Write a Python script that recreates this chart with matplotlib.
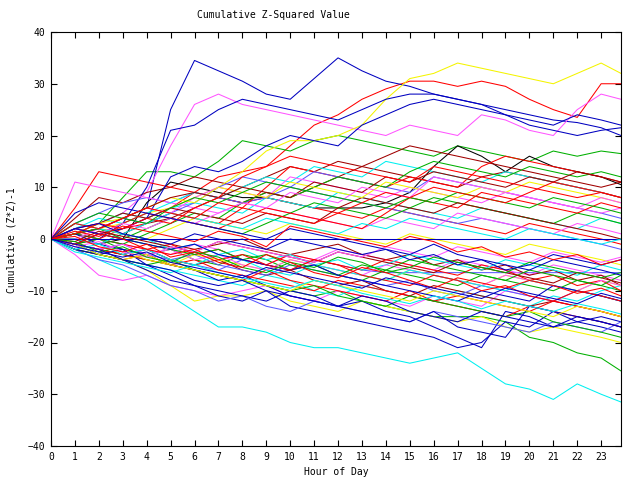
import numpy as np
import matplotlib
matplotlib.use("Agg")
import matplotlib.pyplot as plt

# hour positions of the read-off points (last one is 23:50)
hours = list(range(24)) + [23.83]

# series, grouped by the colour they were drawn in
red = [
    [0, -1, 1, 2, 4, 6, 9, 12, 13, 14, 18, 22, 24, 27, 29, 30.5, 30.5, 29.5, 30.5, 29.5, 27, 25, 23.5, 30, 30],
    [0, 6, 13, 12, 11, 10, 9, 8, 7, 8, 7, 6, 5, 4, 6, 5, 4, 3, 2, 1, 3, 2, 1, 0, -1],
    [0, -1, 0, 2, 3, 5, 4, 3, 6, 10, 14, 13, 12, 11, 10, 12, 11, 10, 14, 16, 15, 14, 13, 12, 11],
    [0, -1, -2, -3, -4, -5, -4, -6, -7, -8, -9, -10, -8, -9, -10, -11, -12, -11, -12, -13, -14, -12, -13, -14, -15],
    [0, 1, 0, -1, -2, -1, -3, -2, -4, -5, -3, -4, -5, -6, -4, -5, -6, -7, -5, -6, -8, -7, -9, -8, -10],
    [0, -2, -3, -4, -3, -5, -6, -7, -8, -6, -8, -9, -10, -11, -12, -10, -12, -13, -14, -15, -13, -14, -15, -16, -17],
    [0, 2, 1, 3, 5, 4, 3, 2, 4, 6, 5, 4, 3, 2, 5, 8, 7, 6, 9, 8, 7, 6, 5, 7, 6],
    [0, 1, 3, 2, 4, 3, 6, 8, 12, 14, 16, 15, 14, 13, 12, 11, 14, 13, 12, 11, 10, 9, 8, 9, 8],
    [0, -1, 1, 0, -2, -3, -2, -4, -3, -5, -6, -4, -5, -7, -8, -9, -7, -8, -10, -9, -11, -12, -10, -11, -12],
    [0, 3, 2, 4, 6, 5, 4, 7, 6, 5, 4, 3, 5, 7, 9, 8, 10, 9, 8, 7, 9, 11, 10, 9, 8],
    [0, 0.5, -1.5, -2.5, -1, -3.5, -2.5, -4.5, -5.5, -3, -4.5, -6.5, -7.5, -5.5, -6.5, -8, -9.5, -7.5, -8.5, -9.5, -8, -9, -10.5, -9.5, -11],
    [0, 1.5, 0.5, 2.5, 1.5, 0.5, -0.5, 1.5, 0.5, -1.5, 2.5, 1.5, 0.5, -0.5, -1.5, 0.5, -0.5, -2.5, -1.5, -3.5, -2.5, -4, -3, -5, -4],
]
green = [
    [0, 1, 3, 8, 13, 13, 12, 15, 19, 18, 17, 19, 20, 19, 18, 17, 16, 18, 17, 16, 15, 17, 16, 17, 16.5],
    [0, -1, -2, -3, -4, -5, -6, -7, -8, -9, -10, -11, -10, -12, -13, -14, -15, -15, -15, -16, -19, -20, -22, -23, -25.5],
    [0, -1, 0, -2, -3, -2, -4, -5, -3, -4, -6, -5, -7, -8, -6, -7, -8, -9, -7, -8, -9, -10, -8, -9, -10],
    [0, 2, 1, 0, 2, 4, 3, 2, 1, 3, 5, 7, 6, 5, 4, 6, 8, 7, 6, 5, 4, 3, 5, 4, 3],
    [0, 1, 0, -1, 1, 3, 5, 4, 7, 9, 8, 10, 12, 11, 10, 13, 15, 14, 13, 12, 14, 13, 12, 13, 12],
    [0, -2, -3, -4, -5, -4, -6, -7, -8, -9, -10, -9, -11, -12, -13, -11, -12, -13, -14, -15, -14, -16, -17, -18, -19],
    [0, 1, 2, 0, -1, -2, -3, -2, -4, -3, -5, -6, -7, -5, -6, -4, -5, -6, -7, -8, -6, -7, -8, -9, -7],
    [0, 3, 5, 4, 3, 6, 8, 7, 9, 11, 10, 9, 8, 7, 6, 8, 7, 9, 8, 7, 6, 8, 7, 6, 5],
    [0, -0.5, -2.5, -1.5, -3.5, -4.5, -2.5, -3.5, -5.5, -6.5, -4.5, -5.5, -3.5, -4.5, -6.5, -5.5, -3.5, -4.5, -5.5, -6.5, -4.5, -5.5, -6.5, -7.5, -6.5],
]
blue = [
    [0, 1, 2, 4, 6, 25, 34.5, 32.5, 30.5, 28, 27, 31, 35, 32.5, 30.5, 29.5, 28, 27, 26, 25, 24, 23, 22.5, 21.5, 20],
    [0, 1, 0, 3, 10, 21, 22, 25, 27, 26, 25, 24, 23, 25, 27, 28, 28, 27, 26, 24, 23, 22, 24, 23, 22],
    [0, -1, 1, 2, 4, 12, 14, 13, 15, 18, 20, 19, 18, 22, 24, 26, 27, 26, 25, 24, 22, 21, 20, 21, 21.5],
    [0, -1, -3, -4, -6, -8, -9, -11, -12, -10, -13, -14, -15, -16, -17, -18, -19, -21, -20, -16, -17, -14, -16, -17, -18],
    [0, 1, -1, -2, -3, -5, -6, -8, -7, -9, -11, -12, -13, -12, -14, -15, -17, -19, -21, -14, -15, -17, -16, -15, -16],
    [0, -2, -3, -2, -5, -7, -9, -10, -11, -12, -10, -11, -13, -14, -15, -16, -14, -17, -18, -19, -13, -14, -15, -16, -17],
    [0] * 25,
    [0, 2, 1, 0, -1, -2, -1, -3, -4, -5, -6, -5, -7, -8, -9, -10, -11, -12, -10, -11, -12, -9, -10, -11, -12],
    [0, 5, 7, 6, 5, 4, 3, 2, 1, 0, 2, 1, 0, -1, -2, -3, -1, -3, -4, -5, -6, -4, -5, -6, -7],
    [0, 2, 3, 1, 0, -1, 1, 0, -1, -2, 0, -1, -2, -3, -2, -4, -3, -5, -4, -6, -5, -3, -4, -5, -4],
    [0, -1, -2, -4, -5, -6, -8, -9, -8, -10, -11, -12, -13, -11, -12, -14, -15, -16, -14, -15, -16, -17, -15, -16, -17],
    [0, -1.5, -2.5, -3.5, -2.5, -4.5, -5.5, -6.5, -7.5, -5.5, -6.5, -7.5, -8.5, -9.5, -7.5, -8.5, -9.5, -10.5, -11.5, -9.5, -10.5, -11.5, -12.5, -10.5, -11.5],
]
magenta = [
    [0, 2, 3, 5, 9, 18, 26, 28, 26, 25, 24, 23, 22, 21, 20, 22, 21, 20, 24, 23, 21, 20, 25, 28, 27],
    [0, -3, -7, -8, -7, -9, -10, -11, -10, -9, -11, -12, -10, -11, -12, -13, -11, -12, -13, -10, -11, -12, -13, -14, -15],
    [0, 11, 10, 9, 8, 7, 6, 5, 7, 6, 5, 4, 3, 2, 4, 3, 2, 5, 4, 3, 2, 1, 3, 2, 1],
    [0, 1, 0, -1, -2, -3, -1, -2, -4, -5, -3, -4, -2, -3, -4, -5, -6, -4, -5, -6, -7, -5, -6, -7, -8],
    [0, 0, 2, 4, 6, 5, 8, 10, 9, 8, 12, 11, 10, 9, 8, 10, 9, 8, 7, 9, 8, 7, 6, 5, 6],
    [0, -1, -2, -1, -3, -2, -4, -3, -5, -6, -4, -5, -6, -7, -5, -6, -7, -8, -9, -7, -8, -9, -10, -8, -9],
    [0, 2, 1, 3, 2, 4, 3, 5, 7, 6, 9, 8, 7, 10, 9, 8, 12, 11, 10, 9, 8, 7, 6, 8, 7],
    [0, -1.5, -0.5, -2.5, -3.5, -1.5, -2.5, -0.5, -1.5, -2.5, -3.5, -4.5, -2.5, -3.5, -1.5, -2.5, -3.5, -1.5, -2.5, -3.5, -4.5, -2.5, -3.5, -4.5, -3.5],
]
cyan = [
    [0, -2, -4, -6, -8, -11, -14, -17, -17, -18, -20, -21, -21, -22, -23, -24, -23, -22, -25, -28, -29, -31, -28, -30, -31.5],
    [0, 1, 3, 5, 4, 6, 7, 6, 5, 8, 7, 6, 9, 8, 7, 6, 5, 4, 6, 5, 4, 3, 2, 4, 3],
    [0, -1, -3, -4, -5, -6, -7, -8, -9, -7, -8, -10, -11, -9, -10, -11, -12, -10, -11, -12, -13, -11, -12, -10, -9],
    [0, 2, 4, 3, 5, 7, 9, 8, 10, 12, 11, 14, 13, 12, 15, 14, 13, 12, 11, 13, 12, 11, 10, 9, 8],
    [0, 0, -1, 1, 0, -2, -1, -3, -2, -4, -3, -5, -4, -6, -5, -3, -4, -5, -6, -4, -5, -6, -7, -5, -6],
    [0, -2, -1, -3, -2, -4, -5, -3, -4, -6, -7, -5, -6, -7, -8, -6, -7, -8, -9, -10, -8, -9, -10, -11, -12],
    [0, 3, 2, 1, 3, 5, 4, 3, 2, 4, 3, 2, 1, 3, 2, 4, 3, 2, 1, 0, 2, 1, 0, -1, 0],
    [0, -2.5, -3.5, -4.5, -5.5, -6.5, -5, -6.5, -7.5, -8.5, -9.5, -8, -9, -10.5, -11.5, -12.5, -11, -12, -13.5, -12, -13, -14, -12.5, -13.5, -14.5],
]
darkred = [
    [0, 4, 8, 7, 9, 10, 12, 11, 10, 12, 14, 13, 15, 14, 13, 12, 11, 10, 12, 13, 12, 11, 10, 9, 8],
    [0, 1, 2, 1, 3, 4, 6, 8, 7, 9, 8, 10, 12, 14, 16, 18, 17, 16, 15, 14, 13, 12, 11, 10, 11],
    [0, -1, -2, -3, -2, -4, -5, -4, -6, -7, -6, -8, -9, -8, -10, -11, -9, -10, -11, -12, -13, -12, -13, -14, -15],
    [0, 0, -1, 1, 0, -1, -2, -1, 0, -2, -3, -2, -1, -3, -4, -3, -5, -4, -6, -5, -7, -6, -8, -7, -9],
    [0, 2, 3, 5, 4, 6, 5, 4, 3, 5, 4, 3, 6, 8, 7, 6, 5, 7, 6, 5, 4, 3, 2, 1, 0],
    [0, 1, 2, 4, 6, 8, 9, 8, 10, 9, 8, 11, 10, 9, 12, 11, 13, 12, 11, 10, 12, 11, 13, 12, 11],
    [0, -0.5, 1.5, 0.5, -0.5, -1.5, -2.5, -0.5, -1.5, -2.5, -3.5, -4.5, -2.5, -3.5, -4.5, -5.5, -6.5, -4.5, -5.5, -6.5, -7.5, -8.5, -6.5, -7.5, -8.5],
]
yellow = [
    [0, 1, 2, 3, 5, 6, 8, 10, 13, 17, 19, 19, 20, 22, 27, 31, 32, 34, 33, 32, 31, 30, 32, 34, 32],
    [0, -1, -2, -4, -6, -9, -12, -11, -11, -10, -12, -13, -14, -12, -13, -14, -15, -16, -15, -17, -18, -17, -18, -19, -20],
    [0, 1, 2, 1, 0, 2, 4, 3, 2, 1, 3, 2, 1, 0, -1, 1, 0, -1, -2, -3, -1, -2, -3, -4, -5],
    [0, -2, -3, -2, -4, -5, -3, -4, -5, -6, -4, -5, -6, -7, -8, -6, -7, -8, -9, -7, -8, -9, -10, -8, -9],
    [0, 1, 3, 4, 6, 8, 7, 10, 9, 8, 11, 10, 9, 8, 11, 10, 9, 8, 10, 9, 11, 10, 9, 8, 7],
    [0, -1, -3, -4, -3, -5, -6, -7, -8, -9, -10, -8, -9, -10, -11, -12, -10, -11, -12, -13, -14, -15, -13, -14, -15],
]
lightblue = [
    [0, -1, -2, -3, -2, -4, -5, -6, -4, -5, -6, -4, -5, -6, -6.5, -6.5, -6.5, -6.5, -6.5, -6.5, -6.5, -6.5, -6.5, -6.5, -6.5],
    [0, 3, 5, 7, 8, 7, 9, 8, 7, 8, 10, 9, 8, 7, 6, 5, 4, 3, 4, 3, 2, 1, 0, -1, -2],
    [0, -1, -2, -1, -3, -4, -3, -5, -6, -7, -5, -6, -7, -8, -9, -8, -10, -11, -9, -10, -11, -12, -10, -11, -12],
    [0, 1, 2, 4, 3, 5, 7, 10, 12, 11, 10, 13, 12, 11, 10, 9, 12, 11, 10, 9, 8, 7, 6, 5, 4],
    [0, -2, -4, -5, -7, -9, -10, -12, -11, -13, -14, -12, -13, -14, -15, -16, -14, -15, -16, -17, -18, -16, -17, -18, -16],
]
black = [
    [0, 0, -1, 0, 7, 11, 10, 9, 8, 8, 7, 6, 6, 6, 7, 9, 14, 18, 16, 13, 16, 14, 13, 12, 10.5],
]

groups = [
    (red, "#ff0000"),
    (green, "#00b000"),
    (blue, "#0000c0"),
    (magenta, "#ff55ff"),
    (cyan, "#00f0f0"),
    (darkred, "#a00000"),
    (yellow, "#f4f400"),
    (lightblue, "#5a5aff"),
    (black, "#000000"),
]

mono = "DejaVu Sans Mono"

fig = plt.figure(figsize=(6.4, 4.8), dpi=100)
ax = fig.add_axes([51 / 640, 34 / 480, 570 / 640, 414 / 480])

# interleave the groups so colours are mixed like the original
n_max = max(len(g) for g, _ in groups)
for i in range(n_max):
    for series, col in groups:
        if i < len(series):
            ax.plot(hours, series[i], color=col, lw=0.75, antialiased=True)

ax.set_xlim(0, 23.83)
ax.set_ylim(-40, 40)
ax.set_xticks(range(24))
ax.set_yticks(range(-40, 41, 10))
ax.tick_params(direction="in", length=4, width=0.8, top=True, right=True,
               labelsize=7, pad=4)
for lab in ax.get_xticklabels() + ax.get_yticklabels():
    lab.set_family(mono)
for sp in ax.spines.values():
    sp.set_linewidth(0.8)

fig.text(0.427, 1 - 15 / 480, "Cumulative Z-Squared Value", ha="center",
         va="center", fontsize=7, family=mono)
fig.text(336 / 640, 1 - 472 / 480, "Hour of Day", ha="center", va="center",
         fontsize=7, family=mono)
fig.text(12 / 640, 1 - 240 / 480, "Cumulative (Z*Z)-1", ha="center",
         va="center", rotation=90, fontsize=7, family=mono)

fig.savefig("out.png", dpi=100)
